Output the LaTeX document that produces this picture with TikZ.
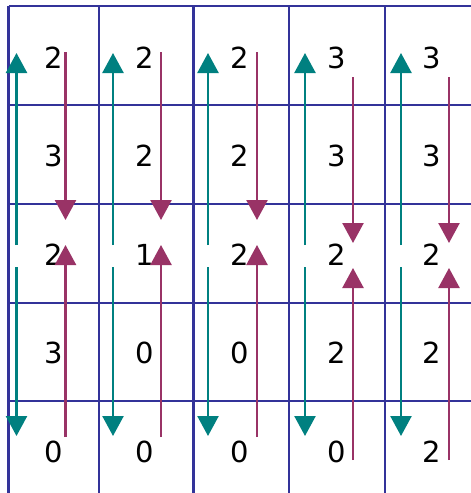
\documentclass[tikz,border=0pt]{standalone}
\usepackage{fontspec}
\setmainfont{DejaVu Sans}
\usepackage{tikz}
\usetikzlibrary{arrows.meta,positioning}
\definecolor{gridblue}{RGB}{51,51,153}
\definecolor{upteal}{RGB}{0,128,128}
\definecolor{downplum}{RGB}{153,51,102}

\begin{document}
\begin{tikzpicture}[
  x=1pt, y=-1pt,
  gridline/.style={draw=gridblue, line width=2.6pt},
  tealarrow/.style={draw=upteal, line width=2.4pt, -{Triangle[width=21pt,length=20pt]}, upteal},
  plumarrow/.style={draw=downplum, line width=2.4pt, -{Triangle[width=21pt,length=20pt]}, downplum},
  val/.style={font=\fontsize{29}{34}\selectfont, inner sep=0pt}
]
\useasboundingbox (0,0) rectangle (471,493);

% grid
\foreach \gx in {8.5,99,193.5,289,385}
  \draw[gridline] (\gx,6) -- (\gx,493);
\foreach \gy in {6,105,204,303,401}
  \draw[gridline] (8.5,\gy) -- (471,\gy);

% values
\foreach \cx [count=\c] in {54,145,240,337,432}
  \foreach \cy [count=\r] in {58,156,255,353,452}
    \node[val] (n-\r-\c) at (\cx,\cy) {};
\node[val] at (n-1-1) {2}; \node[val] at (n-1-2) {2}; \node[val] at (n-1-3) {2}; \node[val] at (n-1-4) {3}; \node[val] at (n-1-5) {3};
\node[val] at (n-2-1) {3}; \node[val] at (n-2-2) {2}; \node[val] at (n-2-3) {2}; \node[val] at (n-2-4) {3}; \node[val] at (n-2-5) {3};
\node[val] at (n-3-1) {2}; \node[val] at (n-3-2) {1}; \node[val] at (n-3-3) {2}; \node[val] at (n-3-4) {2}; \node[val] at (n-3-5) {2};
\node[val] at (n-4-1) {3}; \node[val] at (n-4-2) {0}; \node[val] at (n-4-3) {0}; \node[val] at (n-4-4) {2}; \node[val] at (n-4-5) {2};
\node[val] at (n-5-1) {0}; \node[val] at (n-5-2) {0}; \node[val] at (n-5-3) {0}; \node[val] at (n-5-4) {0}; \node[val] at (n-5-5) {2};

% teal arrows, up and down from the middle
\foreach \tx [count=\c] in {16.5,113,208,305,401} {
  \coordinate (tu-\c) at (\tx,245);
  \coordinate (tt-\c) at (\tx,53);
  \coordinate (td-\c) at (\tx,267);
  \coordinate (tb-\c) at (\tx,436);
  \draw[tealarrow] (tu-\c) -- (tt-\c);
  \draw[tealarrow] (td-\c) -- (tb-\c);
}

% plum arrows, in towards the middle
\foreach \mx/\ms/\me/\ns/\ne [count=\c] in {65.5/52/220/437/245,161/52/220/437/245,257/52/220/437/245,353/77/243/460/268,449/77/243/460/268} {
  \coordinate (ps-\c) at (\mx,\ms);
  \coordinate (pe-\c) at (\mx,\me);
  \coordinate (qs-\c) at (\mx,\ns);
  \coordinate (qe-\c) at (\mx,\ne);
  \draw[plumarrow] (ps-\c) -- (pe-\c);
  \draw[plumarrow] (qs-\c) -- (qe-\c);
}
\end{tikzpicture}
\end{document}
